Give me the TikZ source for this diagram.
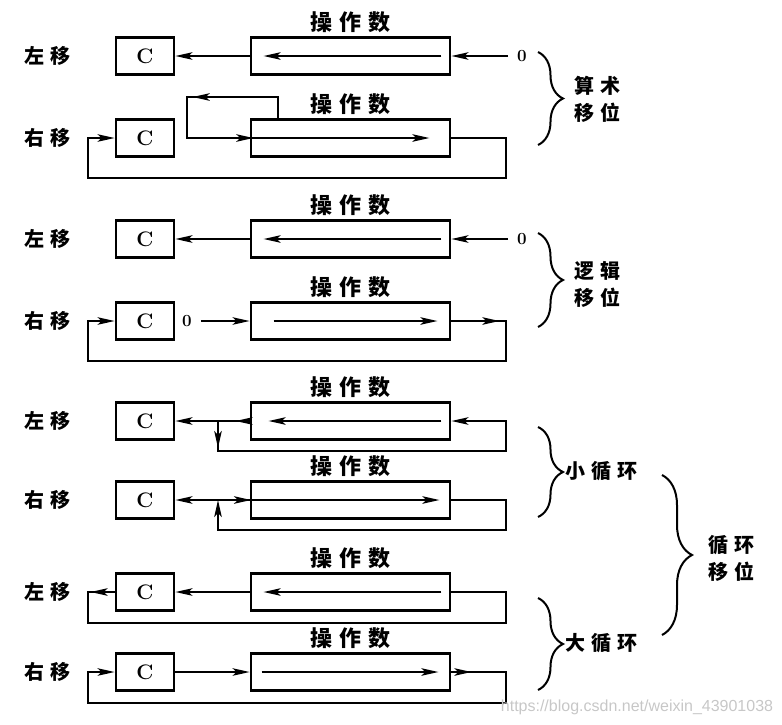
\documentclass[tikz,border=0pt]{standalone}
\usepackage{fontspec}
\usepackage{tikz}
\usetikzlibrary{positioning,arrows.meta,decorations.pathreplacing,decorations.markings}
\newfontfamily\cjk{Noto Sans CJK SC}
\newfontfamily\urlfont{Liberation Sans}
\newcommand{\zg}{\hspace{0.3em}}

\begin{document}
\begin{tikzpicture}[x=1pt,y=-1pt,
  line/.style={line width=2pt},
  arr/.style={line,-{Stealth[length=17pt,width=7.5pt,inset=4pt]}},
  arrowat/.style={postaction={decorate,decoration={markings,mark=at position #1 with {\arrow{Stealth[length=17pt,width=7.5pt,inset=4pt]}}}}},
  cbox/.style={draw,line width=2.8pt,minimum width=58pt,minimum height=37pt,inner sep=0pt,font=\bfseries\fontsize{21}{21}\selectfont},
  reg/.style={draw,line width=2.8pt,minimum width=199pt,minimum height=37pt},
  side/.style={font=\cjk\bfseries\fontsize{20}{24}\selectfont},
  oplab/.style={above=0pt of #1,font=\cjk\bfseries\fontsize{22}{24}\selectfont},
  zero/.style={inner sep=9pt,font=\bfseries\fontsize{17}{17}\selectfont},
  brace/.style={line width=2pt,decorate,decoration={brace,amplitude=#1}},
  group/.style={align=center,font=\cjk\bfseries\fontsize{20}{27}\selectfont}]
  \useasboundingbox (0,0) rectangle (782,724);

  % registers of the eight cases
  \foreach \i/\y/\t in {1/56/左\zg 移,2/138/右\zg 移,3/239/左\zg 移,4/321/右\zg 移,
                        5/421/左\zg 移,6/500/右\zg 移,7/592/左\zg 移,8/672/右\zg 移} {
    \node[side] (lab\i) at (47,\y) {\t};
    \node[cbox] (c\i) at (145,\y) {C};
    \node[reg] (r\i) at (350.5,\y) {};
    \node[oplab=r\i] (op\i) {操\zg 作\zg 数};
  }

  % arithmetic shift
  \node[zero] (z1) at (522,56) {0};
  \draw[arr] (r1.west) -- (c1.east);
  \draw[arr] ([xshift=-10pt]r1.east) -- ([xshift=14pt]r1.west);
  \draw[arr] (z1) -- (r1.east);
  \coordinate (k2) at (187,97);
  \coordinate (e2) at (506,178);
  \coordinate (w2) at (88,178);
  \draw[arr,arrowat=106pt,arrowat=219pt] ([xshift=28pt]r2.north west) |- (k2) |- ([xshift=-22pt]r2.east);
  \draw[arr] (r2.east) -| (e2) -- (w2) |- (c2.west);

  % logical shift
  \node[zero] (z3) at (522,239) {0};
  \draw[arr] (r3.west) -- (c3.east);
  \draw[arr] ([xshift=-10pt]r3.east) -- ([xshift=14pt]r3.west);
  \draw[arr] (z3) -- (r3.east);
  \node[zero] (z4) at (187,321) {0};
  \coordinate (e4) at (506,361);
  \coordinate (w4) at (88,361);
  \draw[arr] (z4) -- (r4.west);
  \draw[arr] ([xshift=24pt]r4.west) -- ([xshift=-14pt]r4.east);
  \draw[arr,arrowat=48pt] (r4.east) -| (e4) -- (w4) |- (c4.west);

  % small rotate
  \coordinate (j5) at (218,421);
  \coordinate (e5) at (506,451);
  \draw[arr,arrowat=14pt] (r5.west) -- (c5.east);
  \draw[arr] ([xshift=-10pt]r5.east) -- ([xshift=19pt]r5.west);
  \draw[arr,arrowat=27pt] (j5) |- (e5) |- (r5.east);
  \coordinate (j6) at (218,500);
  \coordinate (e6) at (506,530);
  \draw[arr] (r6.east) -| (e6) -| (j6);
  \draw[arr] (j6) -- (c6.east);
  \draw[arr,arrowat=33pt] (j6) -- ([xshift=-12pt]r6.east);

  % big rotate
  \coordinate (w7) at (88,623);
  \coordinate (e7) at (506,623);
  \draw[arr] (r7.west) -- (c7.east);
  \draw[arr] ([xshift=-10pt]r7.east) -- ([xshift=14pt]r7.west);
  \draw[line,arrowat=24pt] (c7.west) -| (w7) -- (e7) |- (r7.east);
  \coordinate (w8) at (88,703);
  \coordinate (e8) at (506,703);
  \draw[arr] (c8.east) -- (r8.west);
  \draw[arr] ([xshift=12pt]r8.west) -- ([xshift=-13pt]r8.east);
  \draw[arr,arrowat=20pt] (r8.east) -| (e8) -- (w8) |- (c8.west);

  % braces
  \coordinate (b1t) at (538,52);  \coordinate (b1b) at (538,145);
  \coordinate (b2t) at (538,233); \coordinate (b2b) at (538,327);
  \coordinate (b3t) at (538,427); \coordinate (b3b) at (538,517);
  \coordinate (b4t) at (538,598); \coordinate (b4b) at (538,690);
  \coordinate (b5t) at (662,475); \coordinate (b5b) at (662,635);
  \draw[brace=25pt] (b1t) -- (b1b);
  \draw[brace=25pt] (b2t) -- (b2b);
  \draw[brace=25pt] (b3t) -- (b3b);
  \draw[brace=25pt] (b4t) -- (b4b);
  \draw[brace=30pt] (b5t) -- (b5b);
  \node[group] (g1) at (597,99) {算\zg 术\\移\zg 位};
  \node[group] (g2) at (597,284) {逻\zg 辑\\移\zg 位};
  \node[group,anchor=west,inner sep=0pt] (g3) at (565,471) {小\zg 循\zg 环};
  \node[group,anchor=west,inner sep=0pt] (g4) at (565,643) {大\zg 循\zg 环};
  \node[group] (g5) at (731,558) {循\zg 环\\移\zg 位};

  \node[font=\urlfont\fontsize{16}{16}\selectfont,text=black!22] (wm) at (637,707) {https://blog.csdn.net/weixin\_43901038};
\end{tikzpicture}
\end{document}
